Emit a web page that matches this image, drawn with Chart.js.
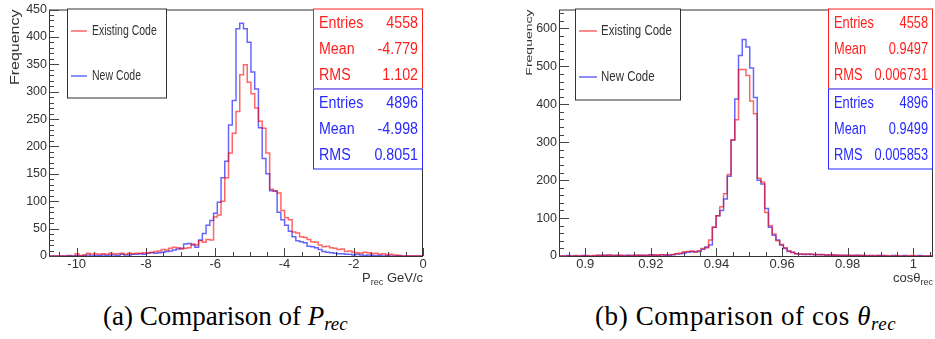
<!DOCTYPE html>
<html>
<head>
<meta charset="utf-8">
<script src="https://cdn.jsdelivr.net/npm/chart.js@4.4.1/dist/chart.umd.min.js"></script>
<style>
  body { margin: 0; background: #fff; width: 935px; height: 339px; position: relative; overflow: hidden; }
  canvas { position: absolute; top: 0; }
  #pChart { left: 0; }
  #cosChart { left: 500px; }
  .caption { position: absolute; top: 301px; font-family: "Liberation Serif", serif; font-size: 27px; white-space: nowrap; color: #000; line-height: 30px; }
  .caption sub { font-size: 0.7em; vertical-align: -0.25em; line-height: 0; }
</style>
</head>
<body>
<canvas id="pChart" width="440" height="292"></canvas>
<canvas id="cosChart" width="435" height="292"></canvas>
<div class="caption" style="left:103px">(a) Comparison of <i>P</i><sub><i>rec</i></sub></div>
<div class="caption" style="left:595px; letter-spacing:0.6px">(b) Comparison of cos <i>θ</i><sub><i>rec</i></sub></div>
<script>
// histogram bins: 100 bins each
const pBinLow = -10.8, pBinWidth = 0.108;
const pOld = [
  0, 0, 0, 0, 0, 0, 0, 0, 4, 1,
  2, 5, 3, 4, 3, 4, 3, 5, 4, 4,
  5, 3, 5, 4, 5, 5, 6, 6, 7, 8,
  9, 12, 11, 14, 16, 15, 13, 14, 15, 22,
  20, 28, 25, 30, 29, 71, 75, 100, 143, 188,
  224, 264, 331, 349, 317, 296, 270, 246, 233, 188,
  122, 119, 115, 83, 70, 66, 44, 42, 35, 34,
  30, 26, 25, 20, 17, 18, 15, 14, 12, 13,
  8, 9, 7, 6, 5, 7, 6, 4, 5, 3,
  4, 2, 3, 2, 1, 0, 0, 0, 0, 0
];
const pNew = [
  0, 0, 0, 0, 0, 0, 1, 0, 1, 0,
  1, 2, 0, 1, 1, 2, 1, 2, 2, 1,
  3, 2, 2, 3, 3, 4, 3, 5, 6, 5,
  6, 7, 8, 9, 11, 13, 14, 22, 23, 20,
  16, 29, 41, 56, 65, 78, 98, 143, 173, 239,
  284, 415, 425, 415, 390, 336, 305, 234, 178, 150,
  119, 118, 80, 66, 56, 45, 35, 28, 26, 24,
  18, 17, 15, 12, 8, 7, 6, 5, 4, 4,
  3, 3, 2, 3, 2, 1, 2, 1, 1, 1,
  0, 1, 0, 0, 1, 0, 0, 0, 0, 0
];

const cosBinLow = 0.892, cosBinWidth = 0.00114;
const cosOld = [
  0, 0, 0, 0, 0, 1, 0, 0, 1, 0,
  1, 2, 1, 1, 3, 1, 1, 2, 0, 1,
  1, 2, 2, 1, 2, 2, 3, 2, 3, 3,
  3, 4, 6, 7, 11, 12, 13, 10, 14, 20,
  22, 42, 76, 106, 130, 164, 215, 306, 359, 492,
  492, 476, 409, 375, 205, 195, 115, 80, 58, 40,
  30, 22, 14, 9, 6, 5, 5, 4, 5, 4,
  3, 4, 3, 2, 3, 2, 2, 1, 2, 1,
  1, 2, 1, 1, 0, 1, 1, 0, 1, 0,
  0, 1, 0, 0, 0, 1, 0, 0, 0, 0
];
const cosNew = [
  0, 0, 0, 1, 0, 0, 0, 1, 0, 0,
  0, 1, 1, 2, 1, 1, 2, 1, 1, 2,
  1, 1, 2, 2, 1, 3, 2, 2, 3, 2,
  2, 3, 5, 6, 8, 10, 11, 12, 12, 18,
  24, 29, 76, 106, 120, 150, 210, 306, 414, 529,
  571, 551, 496, 418, 200, 190, 125, 76, 55, 42,
  29, 20, 12, 10, 6, 5, 4, 5, 4, 3,
  4, 3, 2, 3, 2, 2, 1, 2, 1, 1,
  2, 1, 1, 0, 1, 0, 1, 1, 0, 0,
  1, 0, 0, 1, 0, 0, 0, 1, 0, 0
];

const seriesLabels = ['Existing Code', 'New Code'];
const statNames = ['Entries', 'Mean', 'RMS'];
const pStatsOld = ['4558', '-4.779', '1.102'];
const pStatsNew = ['4896', '-4.998', '0.8051'];
const cosStatsOld = ['4558', '0.9497', '0.006731'];
const cosStatsNew = ['4896', '0.9499', '0.005853'];

const pXTicks = [-10, -8, -6, -4, -2, 0];
const pYTicks = [0, 50, 100, 150, 200, 250, 300, 350, 400, 450];
const cosXTicks = [0.9, 0.92, 0.94, 0.96, 0.98, 1];
const cosYTicks = [0, 100, 200, 300, 400, 500, 600];

const redLine = 'rgba(255, 0, 0, 0.6)';
const blueLine = 'rgba(0, 0, 255, 0.6)';
const statColors = ['rgb(255, 30, 30)', 'rgb(40, 40, 255)'];

Chart.defaults.font.family = '"Liberation Sans", Arial, sans-serif';
Chart.defaults.font.size = 13;
Chart.defaults.color = '#333';

function histPoints(low, width, vals) {
  const pts = vals.map((v, i) => ({ x: low + i * width, y: v }));
  pts.push({ x: low + vals.length * width, y: vals[vals.length - 1] });
  return pts;
}

function drawScaled(ctx, text, x, y, hscale, align) {
  ctx.save();
  ctx.translate(x, y);
  ctx.scale(hscale, 1);
  ctx.textAlign = align;
  ctx.fillText(text, 0, 0);
  ctx.restore();
}

const rootStyle = {
  id: 'rootStyle',
  beforeDatasetsDraw(chart, args, o) {
    const ctx = chart.ctx, a = chart.chartArea;
    const xs = chart.scales.x, ys = chart.scales.y;
    ctx.save();
    ctx.strokeStyle = '#333';
    ctx.lineWidth = 1;
    ctx.strokeRect(a.left + 0.5, a.top + 0.5, a.right - a.left - 1, a.bottom - a.top);

    // inside ticks, major and minor
    const drawTicks = (scale, step, len, minorLen, horiz) => {
      const first = Math.ceil(scale.min / step - 1e-6);
      const last = Math.floor(scale.max / step + 1e-6);
      for (let i = first; i <= last; i++) {
        const v = i * step;
        const major = scale.ticks.some(t => Math.abs(t.value - v) < step / 10);
        const p = Math.round(scale.getPixelForValue(v)) + 0.5;
        const l = major ? len : minorLen;
        ctx.beginPath();
        if (horiz) { ctx.moveTo(p, a.bottom); ctx.lineTo(p, a.bottom - l); }
        else { ctx.moveTo(a.left, p); ctx.lineTo(a.left + l, p); }
        ctx.stroke();
      }
    };
    ctx.strokeStyle = '#444';
    drawTicks(xs, o.minor.x, 8, 4, true);
    drawTicks(ys, o.minor.y, 10, 5, false);

    // axis titles
    ctx.fillStyle = '#333';
    ctx.save();
    ctx.translate(o.yTitle.x, a.top);
    ctx.rotate(-Math.PI / 2);
    ctx.scale(1, o.yTitle.squash);
    ctx.font = o.yTitle.size + 'px "Liberation Sans", Arial, sans-serif';
    ctx.textAlign = 'right';
    ctx.textBaseline = 'middle';
    ctx.fillText(o.yTitle.text, 0, 0);
    ctx.restore();

    ctx.textBaseline = 'alphabetic';
    ctx.textAlign = 'left';
    let total = 0;
    o.xTitle.forEach(([t, size]) => {
      ctx.font = size + 'px "Liberation Sans", Arial, sans-serif';
      total += ctx.measureText(t).width;
    });
    let x = a.right - total;
    const base = a.bottom + 26;
    o.xTitle.forEach(([t, size, drop]) => {
      ctx.font = size + 'px "Liberation Sans", Arial, sans-serif';
      ctx.fillText(t, x, base + drop);
      x += ctx.measureText(t).width;
    });
    ctx.restore();
  },
  afterDraw(chart, args, o) {
    const ctx = chart.ctx, a = chart.chartArea;
    ctx.save();
    ctx.lineWidth = 1;

    // legend box
    const lg = o.legend;
    const lx = a.left + lg.dx, ly = a.top - 1;
    ctx.fillStyle = '#fff';
    ctx.fillRect(lx, ly, lg.w, lg.h);
    ctx.strokeStyle = '#333';
    ctx.strokeRect(lx + 0.5, ly + 0.5, lg.w, lg.h);
    ctx.font = lg.size + 'px "Liberation Sans", Arial, sans-serif';
    ctx.textBaseline = 'middle';
    chart.data.datasets.forEach((ds, i) => {
      const y = ly + lg.rows[i] + 0.5;
      ctx.strokeStyle = ds.borderColor;
      ctx.lineWidth = 1.5;
      ctx.beginPath();
      ctx.moveTo(lx + lg.sample[0], y);
      ctx.lineTo(lx + lg.sample[1], y);
      ctx.stroke();
      ctx.fillStyle = '#333';
      drawScaled(ctx, ds.label, lx + lg.textX, y, lg.hscale, 'left');
    });

    // stat boxes
    const st = o.stats;
    ctx.lineWidth = 1;
    ctx.font = st.size + 'px "Liberation Sans", Arial, sans-serif';
    st.sets.forEach((vals, j) => {
      const bx = a.right - st.w, by = a.top - 1 + j * st.h;
      ctx.fillStyle = '#fff';
      ctx.fillRect(bx, by, st.w, st.h);
      ctx.strokeStyle = statColors[j];
      ctx.strokeRect(bx + 0.5, by + 0.5, st.w - 1, st.h);
      ctx.fillStyle = statColors[j];
      statNames.forEach((name, r) => {
        const y = by + 15 + r * 26;
        drawScaled(ctx, name, bx + 6, y, st.hscale, 'left');
        drawScaled(ctx, vals[r], a.right - 5, y, st.hscale, 'right');
      });
    });
    ctx.restore();
  }
};

function makeHist(id, low, width, oldVals, newVals, xRange, yRange, xTicks, yTicks, axisW, padRight, style) {
  const ctx = document.getElementById(id).getContext('2d');
  return new Chart(ctx, {
    type: 'line',
    data: {
      datasets: [{
        label: seriesLabels[0],
        data: histPoints(low, width, oldVals),
        borderColor: redLine,
        borderWidth: 1.5,
        stepped: 'after',
        pointRadius: 0,
        fill: false
      }, {
        label: seriesLabels[1],
        data: histPoints(low, width, newVals),
        borderColor: blueLine,
        borderWidth: 1.5,
        stepped: 'after',
        pointRadius: 0,
        fill: false
      }]
    },
    options: {
      responsive: false,
      animation: false,
      layout: { padding: { top: 6, right: padRight, left: 0, bottom: 0 } },
      plugins: { legend: { display: false }, tooltip: { enabled: false }, rootStyle: style },
      scales: {
        x: {
          type: 'linear',
          min: xRange[0],
          max: xRange[1],
          grid: { display: false, drawTicks: false },
          border: { display: false },
          afterBuildTicks: s => { s.ticks = xTicks.map(v => ({ value: v })); },
          afterFit: s => { s.height = 36; },
          ticks: { padding: 1, maxRotation: 0, callback: v => String(Math.round(v * 1000) / 1000) }
        },
        y: {
          min: yRange[0],
          max: yRange[1],
          grid: { display: false, drawTicks: false },
          border: { display: false },
          afterBuildTicks: s => { s.ticks = yTicks.map(v => ({ value: v })); },
          afterFit: s => { s.width = axisW; },
          ticks: { padding: 2, font: { size: 12.5 } }
        }
      }
    },
    plugins: [rootStyle]
  });
}

document.addEventListener('DOMContentLoaded', function() {
  makeHist('pChart', pBinLow, pBinWidth, pOld, pNew, [-10.8, 0], [0, 450], pXTicks, pYTicks, 49, 17, {
    minor: { x: 0.5, y: 10 },
    yTitle: { text: 'Frequency', size: 16, squash: 0.78, x: 16 },
    xTitle: [['P', 13, 0], ['rec', 9, 3], [' GeV/c', 13, 0]],
    legend: { dx: 18, w: 99, h: 89, sample: [4, 20], textX: 25, rows: [22, 67], size: 15, hscale: 0.7 },
    stats: { w: 110, h: 80, size: 16, hscale: 0.89, sets: [pStatsOld, pStatsNew] }
  });
  makeHist('cosChart', cosBinLow, cosBinWidth, cosOld, cosNew, [0.892, 1.006], [0, 650], cosXTicks, cosYTicks, 59, 2, {
    minor: { x: 0.005, y: 20 },
    yTitle: { text: 'Frequency', size: 14, squash: 0.7, x: 29.5 },
    xTitle: [['cosθ', 13, 0], ['rec', 9, 3]],
    legend: { dx: 16, w: 105, h: 91, sample: [4, 22], textX: 26, rows: [22, 68], size: 14, hscale: 0.82 },
    stats: { w: 105, h: 80, size: 16, hscale: 0.8, sets: [cosStatsOld, cosStatsNew] }
  });
});
</script>
</body>
</html>
